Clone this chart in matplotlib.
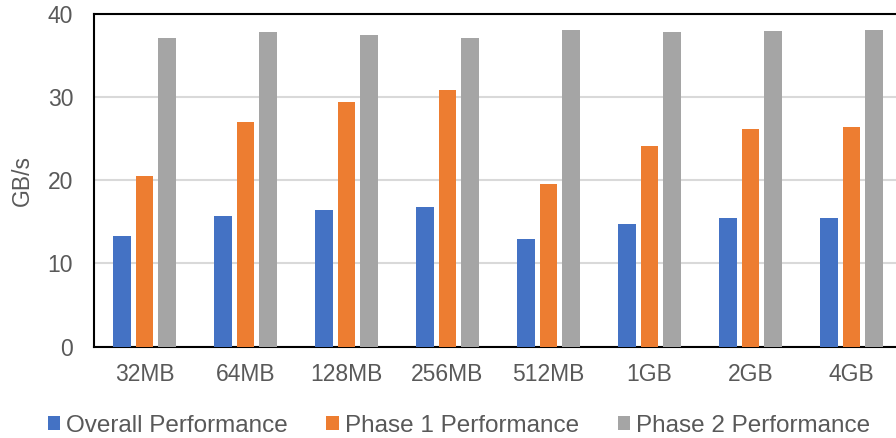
import matplotlib
matplotlib.use("Agg")
import matplotlib.pyplot as plt
from matplotlib.patches import Patch
import numpy as np

plt.rcParams["font.family"] = ["Liberation Sans", "DejaVu Sans"]

sizes = ["32MB", "64MB", "128MB", "256MB", "512MB", "1GB", "2GB", "4GB"]
overall = [13.25, 15.7, 16.4, 16.8, 12.9, 14.7, 15.4, 15.5]
phase1 = [20.5, 27.0, 29.4, 30.9, 19.5, 24.1, 26.2, 26.4]
phase2 = [37.1, 37.8, 37.5, 37.1, 38.1, 37.8, 37.9, 38.1]

series = ["Overall Performance", "Phase 1 Performance", "Phase 2 Performance"]
colors = ["#4472c4", "#ed7d31", "#a5a5a5"]
TXT = "#595959"

fig = plt.figure(figsize=(8.96, 4.38), dpi=100)
# axes runs slightly past the right edge, like the original export
ax = fig.add_axes([94 / 896, 91.5 / 438, 808 / 896, 332.5 / 438])

x = np.arange(len(sizes))
w = 0.173
step = 0.224
for i, (vals, c) in enumerate(zip([overall, phase1, phase2], colors)):
    ax.bar(x + (i - 1) * step, vals, w, color=c, zorder=3)

ax.set_xlim(-0.5, len(sizes) - 0.5)
ax.set_ylim(0, 40)
ax.set_yticks([0, 10, 20, 30, 40])
ax.set_xticks(x)
ax.set_xticklabels(sizes)
ax.tick_params(axis="both", length=0, labelsize=16.5, labelcolor=TXT)
ax.tick_params(axis="y", pad=15)
ax.tick_params(axis="x", pad=12)
ax.grid(axis="y", color="#d9d9d9", linewidth=1.5, zorder=0)
for sp in ax.spines.values():
    sp.set_color("black")
    sp.set_linewidth(1.5)
ax.set_ylabel("GB/s", fontsize=16.5, color=TXT, labelpad=10)

handles = [Patch(facecolor=c, label=s) for c, s in zip(colors, series)]
fig.legend(handles=handles, loc="center", bbox_to_anchor=(0.512, 0.028),
           ncol=3, frameon=False, fontsize=17.5, labelcolor=TXT,
           handlelength=0.5, handleheight=0.5, handletextpad=0.25,
           columnspacing=1.6)

fig.savefig("out.png", dpi=100)
